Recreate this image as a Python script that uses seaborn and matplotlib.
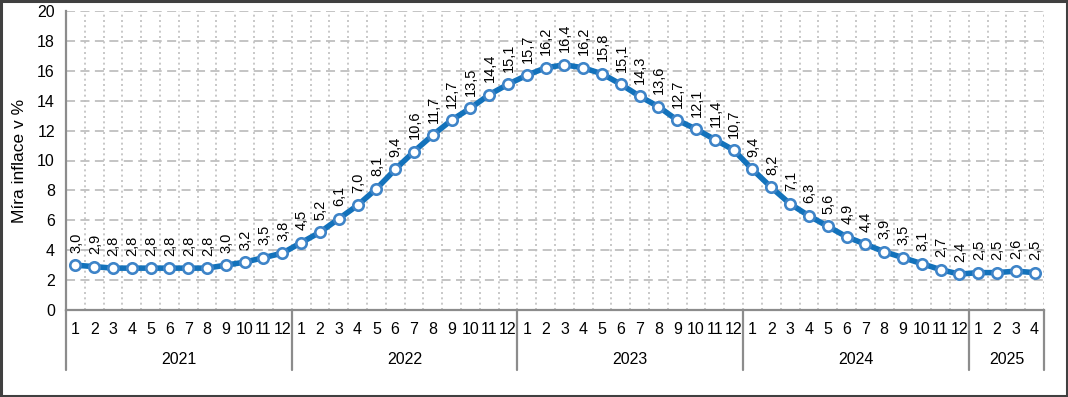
import matplotlib
matplotlib.use("Agg")
import matplotlib.pyplot as plt
import matplotlib.transforms as mtransforms
import seaborn as sns
import pandas as pd
import numpy as np

years = ["2021", "2022", "2023", "2024", "2025"]
months_per_year = [12, 12, 12, 12, 4]
values_2021 = [3.0, 2.9, 2.8, 2.8, 2.8, 2.8, 2.8, 2.8, 3.0, 3.2, 3.5, 3.8]
values_2022 = [4.5, 5.2, 6.1, 7.0, 8.1, 9.4, 10.6, 11.7, 12.7, 13.5, 14.4, 15.1]
values_2023 = [15.7, 16.2, 16.4, 16.2, 15.8, 15.1, 14.3, 13.6, 12.7, 12.1, 11.4, 10.7]
values_2024 = [9.4, 8.2, 7.1, 6.3, 5.6, 4.9, 4.4, 3.9, 3.5, 3.1, 2.7, 2.4]
values_2025 = [2.5, 2.5, 2.6, 2.5]
y_label = "Míra inflace v %"

values = values_2021 + values_2022 + values_2023 + values_2024 + values_2025
month_labels = []
year_of = []
for y, n in zip(years, months_per_year):
    for m in range(1, n + 1):
        month_labels.append(str(m))
        year_of.append(y)
df = pd.DataFrame({"idx": np.arange(len(values)), "value": values,
                   "month": month_labels, "year": year_of})

sns.set_theme(style="white")
plt.rcParams['font.family'] = ['Liberation Sans', 'DejaVu Sans']

fig = plt.figure(figsize=(10.68, 3.97), dpi=100)
ax = fig.add_axes([66 / 1068, 87 / 397, (1044 - 66) / 1068, (310 - 11) / 397])

line_color = "#1372BB"
sns.lineplot(data=df, x="idx", y="value", ax=ax, color=line_color,
             linewidth=4.0, marker="o", markersize=7.5,
             markerfacecolor="white", markeredgecolor="#3E84C8",
             markeredgewidth=1.9, zorder=3)

n = len(values)
ax.set_xlim(-0.5, n - 0.5)
ax.set_ylim(0, 20)
ax.set_yticks(np.arange(0, 21, 2))
ax.set_yticklabels([str(v) for v in range(0, 21, 2)], fontsize=11.5, color="black")

# grid
ax.set_xticks(np.arange(n + 1) - 0.5, minor=True)
ax.set_xticks(np.arange(n))
ax.set_xticklabels(month_labels, fontsize=11.5, color="black")
ax.tick_params(axis="x", which="major", length=0, pad=9)
ax.tick_params(axis="x", which="minor", length=21.6, width=1.4,
               color="#8c8c8c", direction="out")
ax.tick_params(axis="y", which="major", length=5, width=1.4,
               color="#8c8c8c", direction="out", pad=3)
ax.grid(False)
ax.grid(True, axis="y", which="major", color="#bfbfbf", linestyle=(0, (5, 3)), linewidth=1.3)
ax.grid(True, axis="x", which="minor", color="#bfbfbf", linestyle=(0, (1.2, 2)), linewidth=1.2)
ax.set_axisbelow(True)

for s in ["top", "right"]:
    ax.spines[s].set_visible(False)
for s in ["left", "bottom"]:
    ax.spines[s].set_color("#8c8c8c")
    ax.spines[s].set_linewidth(1.6)

ax.set_xlabel("")
ax.set_ylabel(y_label, fontsize=12.5, color="black", labelpad=7)

# year separators and labels
trans = mtransforms.blended_transform_factory(ax.transData, ax.transAxes)
bounds = np.concatenate([[0], np.cumsum(months_per_year)]) - 0.5
for b in bounds:
    ax.plot([b, b], [0, -60 / 299], transform=trans, color="#8c8c8c",
            linewidth=1.6, clip_on=False)
for i, y in enumerate(years):
    c = (bounds[i] + bounds[i + 1]) / 2
    ax.text(c, -49 / 299, y, transform=trans, ha="center", va="center",
            fontsize=11.5, color="black")

# data labels
for i, v in enumerate(values):
    ax.annotate(f"{v:.1f}".replace(".", ","), (i, v), xytext=(0.5, 9),
                textcoords="offset points", rotation=90, ha="center",
                va="bottom", fontsize=10.5, color="black")

# outer frame
fig.patches.append(plt.Rectangle((0.001, 0.002), 0.998, 0.996, transform=fig.transFigure,
                                 fill=False, edgecolor="#404040", linewidth=2.2))

fig.savefig("out.png", dpi=100)
